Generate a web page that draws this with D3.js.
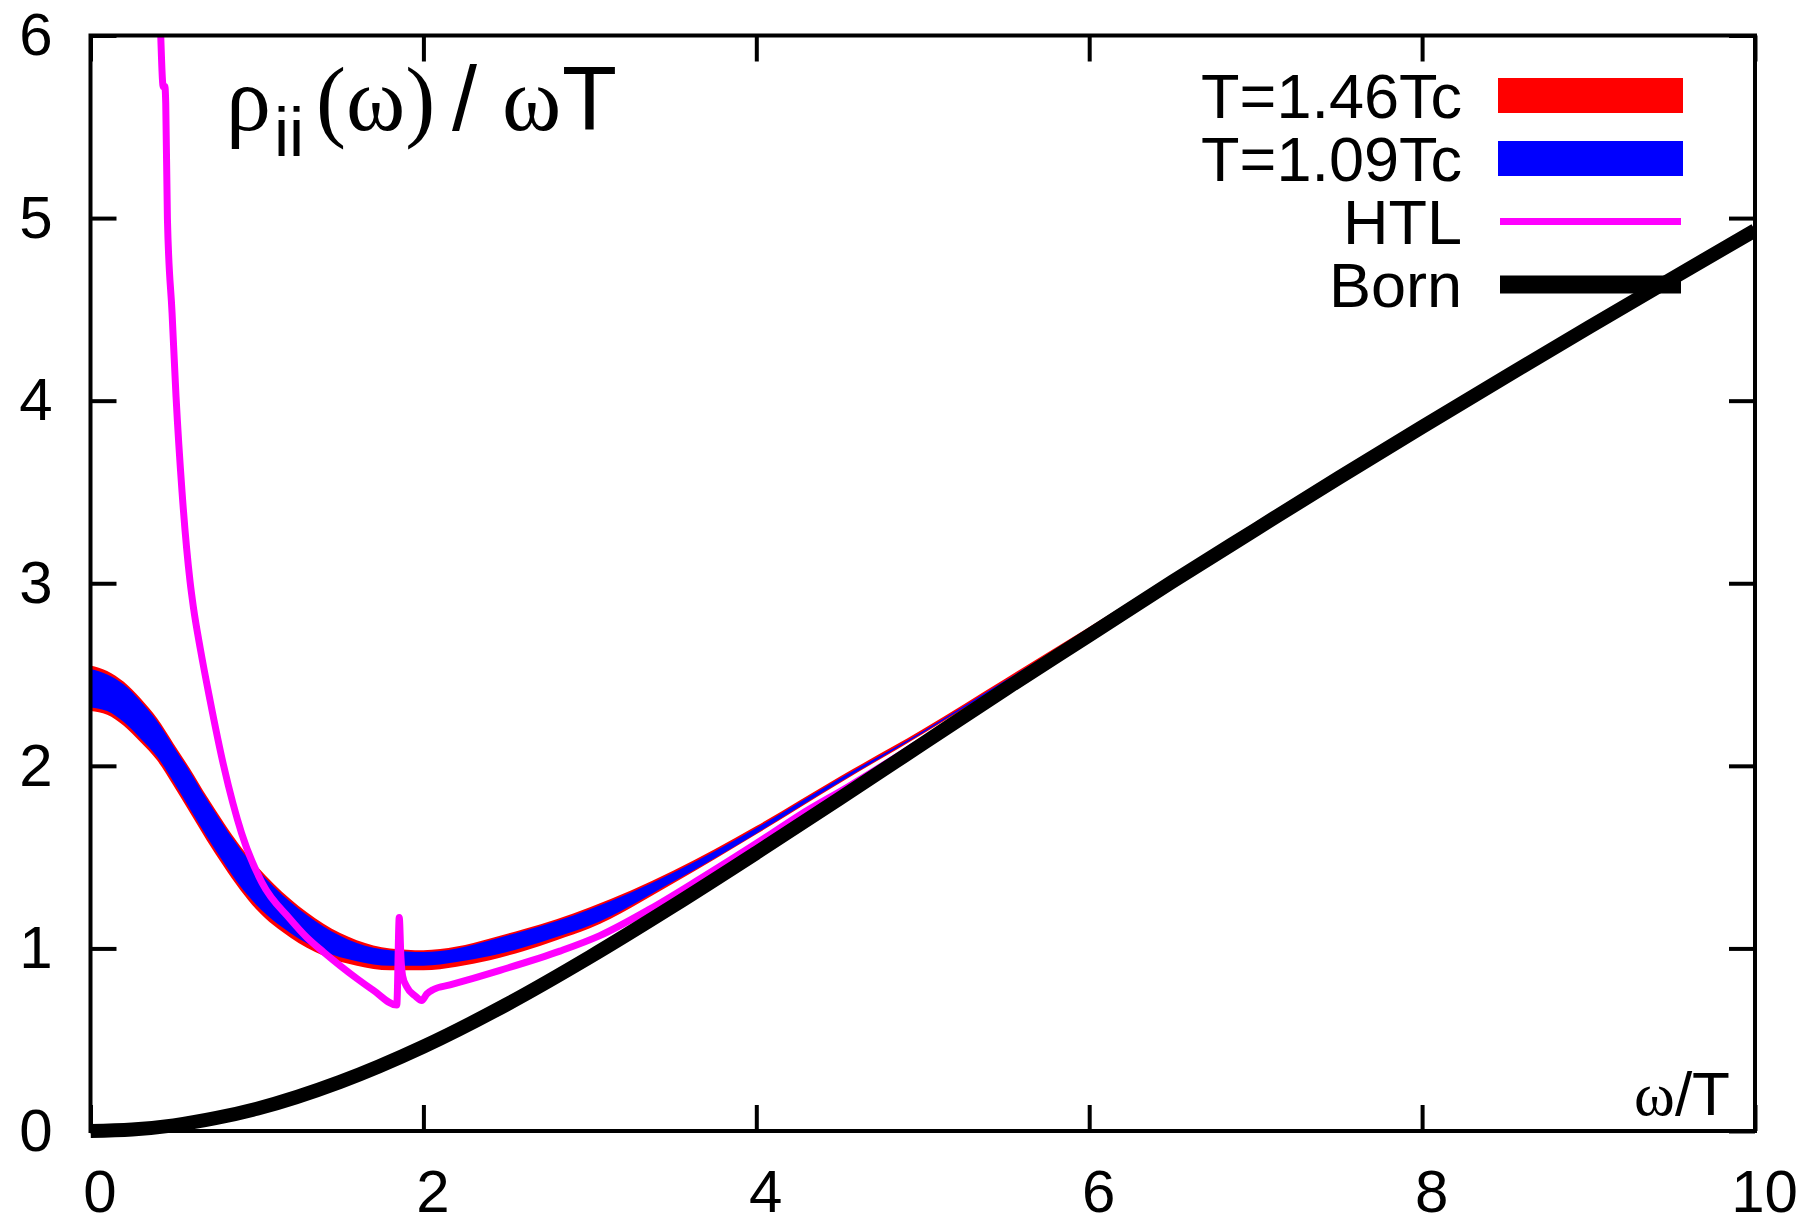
<!DOCTYPE html>
<html>
<head>
<meta charset="utf-8">
<script src="https://cdn.jsdelivr.net/npm/d3@7"></script>
<style>
  body { margin: 0; background: #fff; }
  text { font-family: 'Liberation Sans', Arial, sans-serif; }
</style>
</head>
<body>
<div class="chart"></div>
<script>
const w = 1806;
const h = 1221;

// axis ticks
const xTicks = [0, 2, 4, 6, 8, 10];
const yTicks = [0, 1, 2, 3, 4, 5, 6];

// lattice bands, omega/T grid
const bandX = [0, 0.1, 0.2, 0.3, 0.4, 0.5, 0.6, 0.7, 0.8, 0.9, 1.0, 1.2, 1.4, 1.6, 1.8, 2.0, 2.2, 2.4, 2.6, 2.8, 3.0, 3.5, 4.0, 4.5, 5.0, 5.5, 6.0, 7.0, 8.0, 9.0, 10.0];
// T=1.46Tc (red)
const hotHi = [2.55, 2.52, 2.46, 2.37, 2.26, 2.12, 1.98, 1.83, 1.69, 1.56, 1.45, 1.27, 1.135, 1.045, 1.0, 0.99, 1.01, 1.055, 1.105, 1.16, 1.225, 1.425, 1.67, 1.94, 2.2, 2.48, 2.76, 3.335, 3.895, 4.435, 4.95];
const hotLo = [2.3, 2.28, 2.22, 2.13, 2.03, 1.89, 1.74, 1.59, 1.45, 1.32, 1.21, 1.06, 0.96, 0.905, 0.88, 0.88, 0.9, 0.935, 0.985, 1.045, 1.11, 1.355, 1.625, 1.905, 2.175, 2.455, 2.74, 3.32, 3.885, 4.425, 4.94];
// T=1.09Tc (blue)
const coldHi = [2.53, 2.5, 2.445, 2.355, 2.245, 2.105, 1.965, 1.815, 1.675, 1.545, 1.435, 1.255, 1.12, 1.03, 0.99, 0.98, 1.0, 1.045, 1.095, 1.15, 1.215, 1.415, 1.66, 1.93, 2.19, 2.47, 2.75, 3.325, 3.89, 4.43, 4.945];
const coldLo = [2.32, 2.3, 2.24, 2.15, 2.05, 1.91, 1.76, 1.61, 1.47, 1.34, 1.235, 1.085, 0.985, 0.93, 0.905, 0.905, 0.925, 0.958, 1.005, 1.062, 1.125, 1.365, 1.63, 1.91, 2.18, 2.46, 2.745, 3.322, 3.887, 4.427, 4.942];

// HTL curve
const htlX = [0.422, 0.437, 0.447, 0.452, 0.462, 0.49, 0.514, 0.55, 0.598, 0.618, 0.66, 0.718, 0.8, 0.908, 1.03, 1.2, 1.3, 1.4, 1.5, 1.6, 1.7, 1.84, 1.855, 1.865, 1.875, 1.9, 1.95, 1.99, 2.02, 2.06, 2.16, 2.46, 2.82, 3.06, 3.36, 3.66, 4.06, 4.26, 4.56, 5.0, 6.0, 7.0, 8.0, 9.0, 10.0];
const htlY = [6.0, 5.72, 5.72, 5.63, 5.0, 4.48, 4.02, 3.5, 3.01, 2.87, 2.64, 2.36, 2.0, 1.63, 1.36, 1.16, 1.06, 0.98, 0.905, 0.835, 0.77, 0.69, 1.17, 0.95, 0.85, 0.79, 0.74, 0.715, 0.75, 0.775, 0.8, 0.88, 0.985, 1.07, 1.215, 1.38, 1.61, 1.73, 1.89, 2.14, 2.725, 3.3, 3.865, 4.41, 4.94];

// Born curve
const bornX = [0, 0.25, 0.5, 0.75, 1, 1.5, 2, 2.5, 3, 3.5, 4, 4.5, 5, 5.5, 6, 6.5, 7, 7.5, 8, 8.5, 9, 9.5, 10];
const bornY = [0, 0.008, 0.031, 0.07, 0.122, 0.269, 0.462, 0.693, 0.953, 1.232, 1.523, 1.82, 2.121, 2.422, 2.715, 3.009, 3.294, 3.578, 3.856, 4.13, 4.401, 4.668, 4.933];

// legend
const legendLabels = ['T=1.46Tc', 'T=1.09Tc', 'HTL', 'Born'];
const legendColors = ['#ff0000', '#0000ff', '#ff00ff', '#000000'];

const padLeft = 90.5;
const padRight = 1755;
const padTop = 35.5;
const padBottom = 1131;

const xScale = d3.scaleLinear().domain([0, 10]).range([padLeft, padRight]);
const yScale = d3.scaleLinear().domain([0, 6]).range([padBottom, padTop]);

const svg = d3
  .select('.chart')
  .append('svg')
  .attr('width', w)
  .attr('height', h);

svg
  .append('clipPath')
  .attr('id', 'plot-clip')
  .append('rect')
  .attr('x', padLeft)
  .attr('y', padTop)
  .attr('width', padRight - padLeft)
  .attr('height', padBottom - padTop + 20);

const plot = svg.append('g').attr('clip-path', 'url(#plot-clip)');

// bands
const band = (hi, lo) =>
  d3
    .area()
    .x((d, i) => xScale(bandX[i]))
    .y0((d, i) => yScale(lo[i]))
    .y1((d, i) => yScale(hi[i]))
    .curve(d3.curveMonotoneX)(bandX);

plot.append('path').attr('d', band(hotHi, hotLo)).attr('fill', '#ff0000');
plot.append('path').attr('d', band(coldHi, coldLo)).attr('fill', '#0000ff');

// HTL
const htlLine = d3
  .line()
  .x((d, i) => xScale(htlX[i]))
  .y((d, i) => yScale(htlY[i]))
  .curve(d3.curveMonotoneX);
plot
  .append('path')
  .attr('d', htlLine(htlX))
  .attr('fill', 'none')
  .attr('stroke', '#ff00ff')
  .attr('stroke-width', 7)
  .attr('stroke-linejoin', 'miter');

// Born
const bornLine = d3
  .line()
  .x((d, i) => xScale(bornX[i]))
  .y((d, i) => yScale(bornY[i]))
  .curve(d3.curveMonotoneX);
plot
  .append('path')
  .attr('d', bornLine(bornX))
  .attr('fill', 'none')
  .attr('stroke', '#000')
  .attr('stroke-width', 14);

// axes
const styleAxis = (g) => {
  g.select('.domain').remove();
  g.selectAll('.tick line').attr('stroke', '#000').attr('stroke-width', 4);
  g.selectAll('text')
    .attr('font-family', "'Liberation Sans', Arial, sans-serif")
    .attr('font-size', 60)
    .attr('fill', '#000');
};

svg
  .append('g')
  .attr('transform', `translate(0,${padBottom})`)
  .call(
    d3.axisBottom(xScale).tickValues(xTicks).tickSizeInner(-26).tickSizeOuter(0)
      .tickPadding(38).tickFormat(d3.format('d'))
  )
  .call(styleAxis)
  .selectAll('text')
  .attr('dx', 9);

svg
  .append('g')
  .attr('transform', `translate(0,${padTop})`)
  .call(d3.axisTop(xScale).tickValues(xTicks).tickSizeInner(-26).tickSizeOuter(0).tickFormat(''))
  .call(styleAxis);

svg
  .append('g')
  .attr('transform', `translate(${padLeft},0)`)
  .call(
    d3.axisLeft(yScale).tickValues(yTicks).tickSizeInner(-26).tickSizeOuter(0)
      .tickPadding(38).tickFormat(d3.format('d'))
  )
  .call(styleAxis);

svg
  .append('g')
  .attr('transform', `translate(${padRight},0)`)
  .call(d3.axisRight(yScale).tickValues(yTicks).tickSizeInner(-26).tickSizeOuter(0).tickFormat(''))
  .call(styleAxis);

// frame
svg
  .append('rect')
  .attr('x', padLeft)
  .attr('y', padTop)
  .attr('width', padRight - padLeft)
  .attr('height', padBottom - padTop)
  .attr('fill', 'none')
  .attr('stroke', '#000')
  .attr('stroke-width', 4);

// title
const serif = "'Liberation Serif', 'Times New Roman', serif";
const title = svg.append('text').attr('y', 130).attr('font-size', 90).attr('fill', '#000');
title.append('tspan').attr('x', 226).attr('font-family', serif).text('ρ');
title.append('tspan').attr('x', 274).attr('dy', 26).attr('font-size', 68).text('ii');
title.append('tspan').attr('x', 316).attr('dy', -26).attr('font-family', serif).text('(ω)');
title.append('tspan').attr('x', 452).text('/');
title.append('tspan').attr('x', 502).attr('font-family', serif).text('ω');
title.append('tspan').attr('x', 562).text('T');

// x label
const xLabel = svg
  .append('text')
  .attr('x', 1730)
  .attr('y', 1115)
  .attr('text-anchor', 'end')
  .attr('font-size', 62)
  .attr('fill', '#000');
xLabel.append('tspan').attr('font-family', serif).text('ω');
xLabel.append('tspan').text('/T');

// legend
const legend = svg
  .selectAll('.legend')
  .data(legendLabels)
  .enter()
  .append('g')
  .attr('class', 'legend')
  .attr('transform', (d, i) => `translate(0,${95.5 + i * 63})`);

legend
  .append('text')
  .attr('x', 1462)
  .attr('y', 22)
  .attr('text-anchor', 'end')
  .attr('font-size', 63)
  .attr('fill', '#000')
  .text((d) => d);

legend
  .filter((d, i) => i < 2)
  .append('rect')
  .attr('x', 1498)
  .attr('y', -17.5)
  .attr('width', 185)
  .attr('height', 35)
  .attr('fill', (d, i) => legendColors[i]);

legend
  .filter((d, i) => i >= 2)
  .append('line')
  .attr('x1', 1500)
  .attr('x2', 1681)
  .attr('stroke', (d, i) => legendColors[i + 2])
  .attr('stroke-width', (d, i) => (i === 0 ? 7 : 18));
</script>
</body>
</html>
